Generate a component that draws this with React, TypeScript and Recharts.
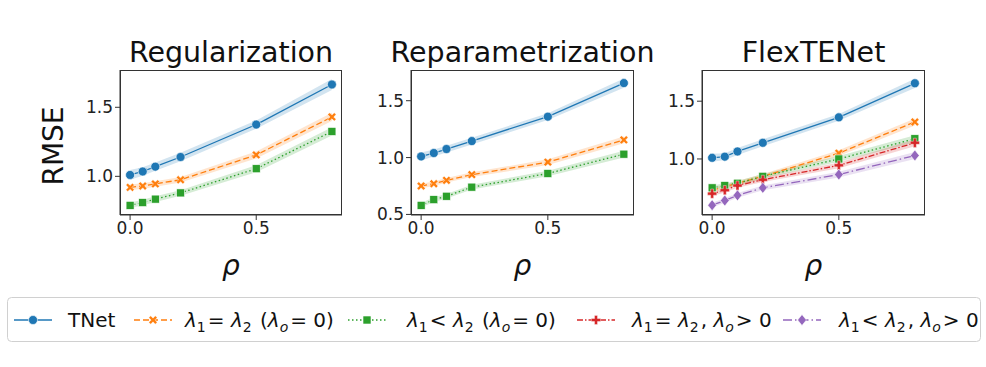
import { ComposedChart, Line, Area, XAxis, YAxis } from "recharts";

const rhoValues = [0, 0.05, 0.1, 0.2, 0.5, 0.8];

// Regularization
const regTNet = [1.01, 1.035, 1.07, 1.14, 1.375, 1.665];
const regEqual = [0.92, 0.93, 0.945, 0.975, 1.155, 1.43];
const regLess = [0.79, 0.81, 0.835, 0.88, 1.055, 1.325];

// Reparametrization
const repTNet = [1.01, 1.04, 1.075, 1.145, 1.36, 1.655];
const repEqual = [0.75, 0.77, 0.8, 0.85, 0.96, 1.155];
const repLess = [0.58, 0.63, 0.66, 0.74, 0.86, 1.03];

// FlexTENet
const flexTNet = [1.01, 1.02, 1.065, 1.14, 1.36, 1.655];
const flexEqual = [0.73, 0.76, 0.79, 0.85, 1.05, 1.32];
const flexLess = [0.75, 0.77, 0.79, 0.85, 1.0, 1.175];
const flexEqualShared = [0.7, 0.73, 0.77, 0.82, 0.945, 1.14];
const flexLessShared = [0.6, 0.64, 0.685, 0.75, 0.865, 1.03];

// half-widths of the shaded bands
const tnetSpread = [0.035, 0.03, 0.03, 0.03, 0.03, 0.04];
const otherSpread = [0.02, 0.02, 0.02, 0.02, 0.025, 0.03];

const xTicks = [0, 0.5];

const BLUE = "#1f77b4";
const ORANGE = "#ff7f0e";
const GREEN = "#2ca02c";
const RED = "#d62728";
const PURPLE = "#9467bd";

type Shape = "circle" | "x" | "square" | "plus" | "diamond";

function plusPoints(cx: number, cy: number, s: number, a: number) {
  const p = [
    [-a, -s], [a, -s], [a, -a], [s, -a], [s, a], [a, a],
    [a, s], [-a, s], [-a, a], [-s, a], [-s, -a], [-a, -a],
  ];
  return p.map(([x, y]) => `${cx + x},${cy + y}`).join(" ");
}

function Marker({ shape, cx, cy, color }: { shape: Shape; cx: number; cy: number; color: string }) {
  if (cx == null || cy == null) return null;
  switch (shape) {
    case "circle":
      return <circle cx={cx} cy={cy} r={4.5} fill={color} stroke="#fff" strokeWidth={0.6} />;
    case "square":
      return <rect x={cx - 4} y={cy - 4} width={8} height={8} fill={color} stroke="#fff" strokeWidth={0.6} />;
    case "x":
      return (
        <polygon
          points={plusPoints(cx, cy, 4.6, 1.3)}
          transform={`rotate(45 ${cx} ${cy})`}
          fill={color}
          stroke="#fff"
          strokeWidth={0.4}
        />
      );
    case "plus":
      return <polygon points={plusPoints(cx, cy, 4.6, 1.5)} fill={color} stroke="#fff" strokeWidth={0.4} />;
    case "diamond":
      return (
        <polygon
          points={`${cx},${cy - 5.5} ${cx + 4.4},${cy} ${cx},${cy + 5.5} ${cx - 4.4},${cy}`}
          fill={color}
          stroke="#fff"
          strokeWidth={0.6}
        />
      );
  }
}

interface SeriesDef {
  key: string;
  values: number[];
  spread: number[];
  color: string;
  dash?: string;
  shape: Shape;
}

const styleTNet = { color: BLUE, shape: "circle" as Shape };
const styleEqual = { color: ORANGE, dash: "6 3", shape: "x" as Shape };
const styleLess = { color: GREEN, dash: "1.5 2.5", shape: "square" as Shape };
const styleEqualShared = { color: RED, dash: "6 2 1.5 2", shape: "plus" as Shape };
const styleLessShared = { color: PURPLE, dash: "9 3 1.5 3", shape: "diamond" as Shape };

const PLOT_TOP = 70;
const PLOT_BOTTOM = 215;
const CHART_H = 300;

function Panel({
  series,
  left,
  right,
  domain,
  yTicks,
}: {
  series: SeriesDef[];
  left: number;
  right: number;
  domain: [number, number];
  yTicks: number[];
}) {
  const data = rhoValues.map((x, i) => {
    const row: Record<string, any> = { x };
    series.forEach((s) => {
      row[s.key] = s.values[i];
      row[s.key + "Band"] = [s.values[i] - s.spread[i], s.values[i] + s.spread[i]];
    });
    return row;
  });
  const width = right - left + 70;
  const tickStyle = { fontSize: 17, fill: "#222", fontFamily: "DejaVu Sans" };
  return (
    <>
      <div style={{ position: "absolute", left: left - 60, top: 0 }}>
        <ComposedChart
          width={width}
          height={CHART_H}
          data={data}
          margin={{ top: PLOT_TOP, right: 10, left: 0, bottom: CHART_H - PLOT_BOTTOM - 30 }}
        >
          <XAxis
            type="number"
            dataKey="x"
            domain={[-0.04, 0.84]}
            ticks={xTicks}
            tickFormatter={(v: number) => v.toFixed(1)}
            height={30}
            tick={tickStyle}
            tickSize={5}
            tickLine={{ stroke: "#333" }}
            axisLine={{ stroke: "#333" }}
            allowDataOverflow
          />
          <YAxis
            type="number"
            domain={domain}
            ticks={yTicks}
            tickFormatter={(v: number) => v.toFixed(1)}
            width={60}
            tick={tickStyle}
            tickSize={5}
            tickLine={{ stroke: "#333" }}
            axisLine={{ stroke: "#333" }}
            allowDataOverflow
          />
          {series.map((s) => (
            <Area
              key={s.key + "Band"}
              type="linear"
              dataKey={s.key + "Band"}
              stroke="none"
              fill={s.color}
              fillOpacity={0.2}
              isAnimationActive={false}
              dot={false}
              activeDot={false}
            />
          ))}
          {series.map((s) => (
            <Line
              key={s.key}
              type="linear"
              dataKey={s.key}
              stroke={s.color}
              strokeWidth={1.3}
              strokeDasharray={s.dash}
              isAnimationActive={false}
              activeDot={false}
              dot={(p: any) => (
                <Marker key={s.key + p.index} shape={s.shape} cx={p.cx} cy={p.cy} color={s.color} />
              )}
            />
          ))}
        </ComposedChart>
      </div>
      <div
        style={{
          position: "absolute",
          left,
          top: PLOT_TOP,
          width: right - left,
          height: PLOT_BOTTOM - PLOT_TOP,
          border: "1px solid #333",
          boxSizing: "border-box",
          pointerEvents: "none",
        }}
      />
    </>
  );
}

function Lam({ s }: { s: string }) {
  return (
    <>
      <tspan fontStyle="italic">λ</tspan>
      <tspan dy={5} fontSize={14} fontStyle={s === "o" ? "italic" : "normal"}>{s}</tspan>
      <tspan dy={-5}>{"\u200a"}</tspan>
    </>
  );
}

function LegendMarker({ x, y, color, dash, shape }: { x: number; y: number; color: string; dash?: string; shape: Shape }) {
  return (
    <g>
      <line x1={x - 19} y1={y} x2={x + 19} y2={y} stroke={color} strokeWidth={1.5} strokeDasharray={dash} />
      <Marker shape={shape} cx={x} cy={y} color={color} />
    </g>
  );
}

export default function App() {
  const panels = [
    {
      title: "Regularization",
      left: 120,
      right: 342,
      domain: [0.72, 1.77] as [number, number],
      yTicks: [1.0, 1.5],
      series: [
        { key: "tnet", values: regTNet, spread: tnetSpread, ...styleTNet },
        { key: "eq", values: regEqual, spread: otherSpread, ...styleEqual },
        { key: "less", values: regLess, spread: otherSpread, ...styleLess },
      ],
    },
    {
      title: "Reparametrization",
      left: 411,
      right: 634,
      domain: [0.495, 1.77] as [number, number],
      yTicks: [0.5, 1.0, 1.5],
      series: [
        { key: "tnet", values: repTNet, spread: tnetSpread, ...styleTNet },
        { key: "eq", values: repEqual, spread: otherSpread, ...styleEqual },
        { key: "less", values: repLess, spread: otherSpread, ...styleLess },
      ],
    },
    {
      title: "FlexTENet",
      left: 702,
      right: 925,
      domain: [0.515, 1.77] as [number, number],
      yTicks: [1.0, 1.5],
      series: [
        { key: "tnet", values: flexTNet, spread: tnetSpread, ...styleTNet },
        { key: "eq", values: flexEqual, spread: otherSpread, ...styleEqual },
        { key: "less", values: flexLess, spread: otherSpread, ...styleLess },
        { key: "eqs", values: flexEqualShared, spread: otherSpread, ...styleEqualShared },
        { key: "lesss", values: flexLessShared, spread: otherSpread, ...styleLessShared },
      ],
    },
  ];

  const legendY = 320;

  return (
    <div
      style={{
        position: "absolute",
        left: 0,
        top: 0,
        width: 986,
        height: 367,
        background: "#fff",
        fontFamily: "DejaVu Sans",
      }}
    >
      {panels.map((p) => (
        <Panel key={p.title} series={p.series} left={p.left} right={p.right} domain={p.domain} yTicks={p.yTicks} />
      ))}
      <svg
        width={986}
        height={367}
        style={{ position: "absolute", left: 0, top: 0, pointerEvents: "none" }}
        fontFamily="DejaVu Sans"
      >
        {panels.map((p) => (
          <g key={p.title}>
            <text x={(p.left + p.right) / 2} y={62} textAnchor="middle" fontSize={28.5} fill="#111">
              {p.title}
            </text>
            <text x={(p.left + p.right) / 2} y={275} textAnchor="middle" fontSize={28} fontStyle="italic" fill="#111">
              ρ
            </text>
          </g>
        ))}
        <text x={63} y={146} textAnchor="middle" fontSize={28} fill="#111" transform="rotate(-90 63 146)">
          RMSE
        </text>

        <rect x={7.5} y={297.5} width={973} height={44} rx={4} fill="#fff" stroke="#d0d0d0" strokeWidth={1} />

        <LegendMarker x={33} y={legendY} {...styleTNet} />
        <text x={68} y={legendY + 7} fontSize={20} fill="#111">TNet</text>

        <LegendMarker x={153} y={legendY} {...styleEqual} />
        <text x={185} y={legendY + 7} fontSize={20} fill="#111">
          <Lam s="1" />
          {"= "}
          <Lam s="2" />
          {" ("}
          <Lam s="o" />
          {"= 0)"}
        </text>

        <LegendMarker x={367} y={legendY} {...styleLess} />
        <text x={407} y={legendY + 7} fontSize={20} fill="#111">
          <Lam s="1" />
          {"< "}
          <Lam s="2" />
          {"  ("}
          <Lam s="o" />
          {"= 0)"}
        </text>

        <LegendMarker x={596} y={legendY} {...styleEqualShared} />
        <text x={632} y={legendY + 7} fontSize={20} fill="#111">
          <Lam s="1" />
          {"= "}
          <Lam s="2" />
          {", "}
          <Lam s="o" />
          {"> 0"}
        </text>

        <LegendMarker x={802} y={legendY} {...styleLessShared} />
        <text x={839} y={legendY + 7} fontSize={20} fill="#111">
          <Lam s="1" />
          {"< "}
          <Lam s="2" />
          {", "}
          <Lam s="o" />
          {"> 0"}
        </text>
      </svg>
    </div>
  );
}
